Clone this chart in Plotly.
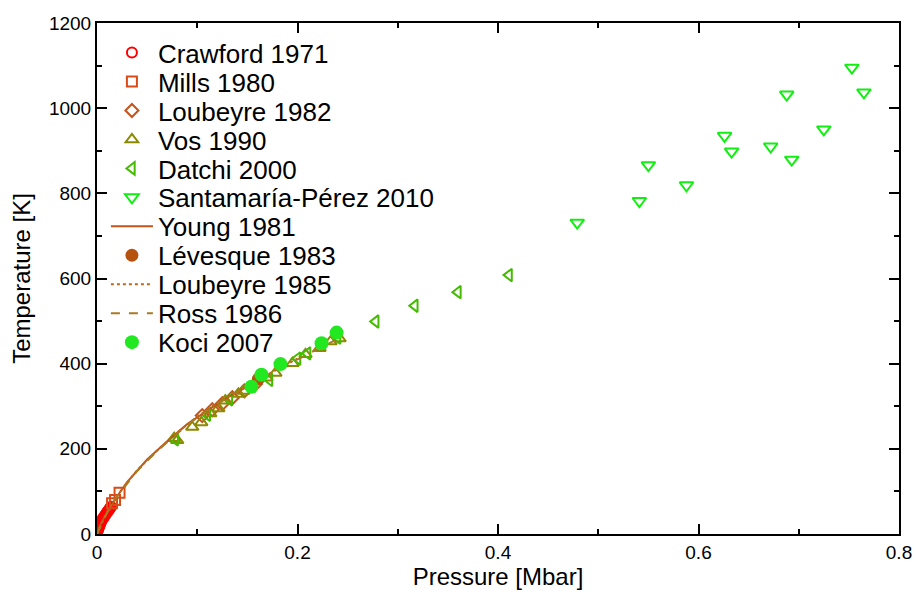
import plotly.graph_objects as go

# ---- data (P in Mbar, T in K) ----
crawford_p = [0.0008, 0.0012, 0.0016, 0.002, 0.0025, 0.003, 0.0035, 0.004, 0.005, 0.006, 0.007, 0.008, 0.009, 0.010, 0.011, 0.012, 0.013, 0.014]
crawford_t = [8, 11, 14, 17, 20, 23, 26, 29, 33, 37, 40, 44, 47, 51, 54, 57, 61, 64]

mills_p = [0.015, 0.018, 0.0225]
mills_t = [72, 80, 97]

loub82_p = [0.105, 0.115, 0.125, 0.135, 0.147, 0.158]
loub82_t = [278, 292, 306, 320, 336, 352]

vos_p = [0.077, 0.080, 0.095, 0.104, 0.113, 0.121, 0.128, 0.141, 0.146, 0.169, 0.178, 0.195, 0.208, 0.222, 0.233, 0.242]
vos_t = [225, 220, 251, 262, 283, 295, 313, 329, 336, 367, 378, 401, 422, 436, 452, 459]

datchi_p = [0.078, 0.110, 0.132, 0.155, 0.172, 0.200, 0.210, 0.240, 0.278, 0.317, 0.360, 0.411]
datchi_t = [222, 280, 316, 348, 362, 412, 424, 461, 499, 536, 568, 608]

santa_p = [0.479, 0.541, 0.550, 0.588, 0.626, 0.633, 0.672, 0.688, 0.693, 0.725, 0.753, 0.765]
santa_t = [731, 782, 866, 819, 935, 898, 910, 1032, 879, 950, 1095, 1037]

young_p = [0.0, 0.002, 0.005, 0.01, 0.02, 0.03, 0.05, 0.07, 0.09, 0.11, 0.13, 0.15, 0.17]
young_t = [0, 15, 30, 50, 88, 122, 175, 218, 258, 290, 320, 346, 372]

levesque_p = [0.161]
levesque_t = [364]

loub85_p = [0.0, 0.01, 0.02, 0.04, 0.06, 0.08, 0.10, 0.12, 0.14, 0.16, 0.18, 0.20]
loub85_t = [0, 52, 90, 150, 196, 238, 276, 308, 336, 362, 388, 412]

ross_p = [0.0, 0.01, 0.02, 0.04, 0.06, 0.08, 0.10, 0.12, 0.14, 0.16, 0.18, 0.20, 0.22, 0.24]
ross_t = [0, 50, 88, 148, 195, 236, 274, 306, 334, 361, 386, 410, 434, 458]

koci_p = [0.154, 0.164, 0.183, 0.224, 0.239]
koci_t = [346, 374, 399, 448, 473]

PLOT_TOP, PLOT_BOTTOM, PLOT_LEFT, PLOT_RIGHT = 23, 540, 97, 907
FONT = "Liberation Sans, Arial, Helvetica, sans-serif"

# legend rows: first and last row centres (pixels from page top), evenly spaced
LEG_FIRST, LEG_LAST, N_LEG = 53, 346, 11

fig = go.Figure()
legend_index = [0]


def next_legend():
    legend_index[0] += 1
    i = legend_index[0]
    return "legend" if i == 1 else f"legend{i}"


def scat(x, y, name, symbol, color, size=9, lw=2):
    fig.add_trace(go.Scatter(x=x, y=y, mode="markers", name=name, legend=next_legend(),
                             marker=dict(symbol=symbol, size=size, color=color,
                                         line=dict(color=color, width=lw))))


scat(crawford_p, crawford_t, "Crawford 1971", "circle-open", "#ff0000", 10)
scat(mills_p, mills_t, "Mills 1980", "square-open", "#d94c1a", 10)
scat(loub82_p, loub82_t, "Loubeyre 1982", "diamond-open", "#c2541c", 10)
scat(vos_p, vos_t, "Vos 1990", "triangle-up-open", "#8c8a00", 11)
scat(datchi_p, datchi_t, "Datchi 2000", "triangle-left-open", "#44bb00", 11)
scat(santa_p, santa_t, "Santamaría-Pérez 2010", "triangle-down-open", "#11ee11", 12)
fig.add_trace(go.Scatter(x=young_p, y=young_t, mode="lines", name="Young 1981", legend=next_legend(),
                         line=dict(color="#c2541c", width=2, dash="solid")))
fig.add_trace(go.Scatter(x=levesque_p, y=levesque_t, mode="markers", name="Lévesque 1983",
                         legend=next_legend(),
                         marker=dict(symbol="circle", size=13, color="#b4520e")))
fig.add_trace(go.Scatter(x=loub85_p, y=loub85_t, mode="lines", name="Loubeyre 1985", legend=next_legend(),
                         line=dict(color="#b86a20", width=2, dash="dot")))
fig.add_trace(go.Scatter(x=ross_p, y=ross_t, mode="lines", name="Ross 1986", legend=next_legend(),
                         line=dict(color="#a87a22", width=2, dash="dash")))
fig.add_trace(go.Scatter(x=koci_p, y=koci_t, mode="markers", name="Koci 2007", legend=next_legend(),
                         marker=dict(symbol="circle", size=14, color="#22e822")))

axis_common = dict(showgrid=False, zeroline=False, showline=True, linecolor="black",
                   linewidth=2, mirror="allticks", ticks="inside", ticklen=10,
                   tickwidth=1.5, tickcolor="black",
                   tickfont=dict(size=19, color="black", family=FONT),
                   minor=dict(ticks="inside", ticklen=5, tickwidth=1.5, tickcolor="black"))

fig.update_xaxes(range=[0, 0.8], minor_dtick=0.1,
                 title=dict(text="Pressure [Mbar]", font=dict(size=24, color="black", family=FONT), standoff=2),
                 tickvals=[0, 0.2, 0.4, 0.6, 0.8], ticktext=["0", "0.2", "0.4", "0.6", "0.8"],
                 **axis_common)
fig.update_yaxes(range=[0, 1200], dtick=200, tick0=0, minor_dtick=100,
                 title=dict(text="Temperature [K]", font=dict(size=24, color="black", family=FONT), standoff=12),
                 **axis_common)

plot_h = PLOT_BOTTOM - PLOT_TOP
step = (LEG_LAST - LEG_FIRST) / (N_LEG - 1)
legends = {}
for i in range(N_LEG):
    key = "legend" if i == 0 else f"legend{i + 1}"
    ypx = LEG_FIRST + i * step
    legends[key] = dict(x=(106 - PLOT_LEFT) / (PLOT_RIGHT - PLOT_LEFT),
                        y=(PLOT_BOTTOM - ypx) / plot_h,
                        xanchor="left", yanchor="middle",
                        bgcolor="rgba(0,0,0,0)", borderwidth=0,
                        font=dict(size=26, color="black", family=FONT),
                        itemwidth=42)

fig.update_layout(
    width=924, height=594,
    margin=dict(l=PLOT_LEFT, r=924 - PLOT_RIGHT, t=PLOT_TOP, b=594 - PLOT_BOTTOM),
    paper_bgcolor="white", plot_bgcolor="white",
    font=dict(family=FONT, color="black"),
    showlegend=True,
    **legends,
)

fig.write_html("out.html")
